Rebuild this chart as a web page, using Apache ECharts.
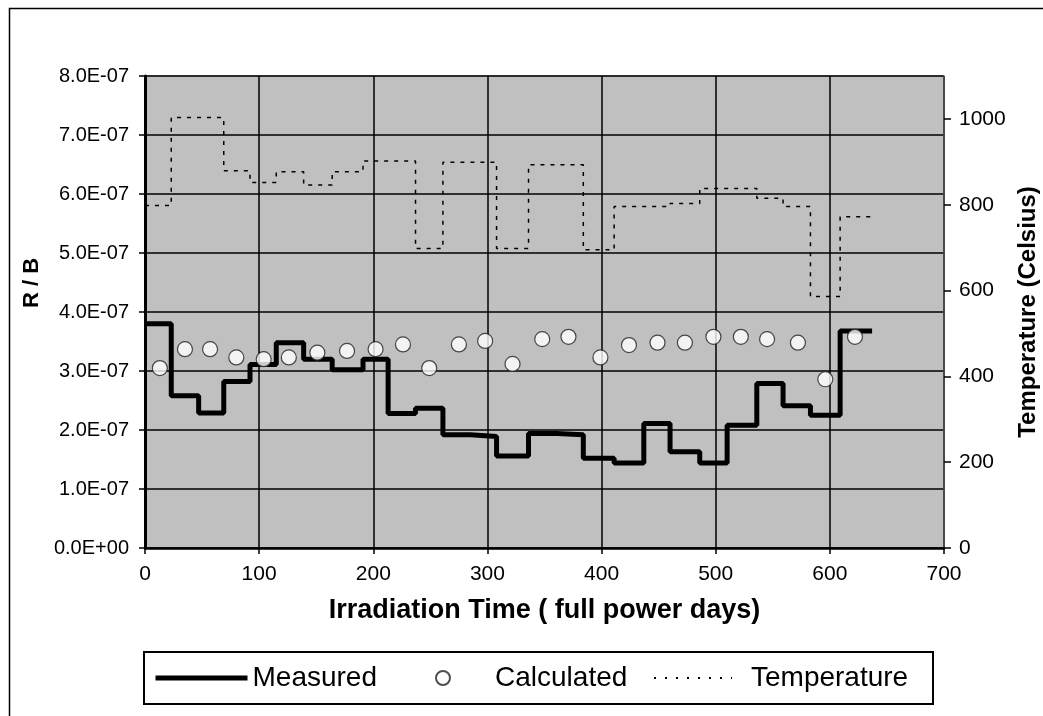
<!DOCTYPE html>
<html>
<head>
<meta charset="utf-8">
<title>R / B vs irradiation time</title>
<script src="https://cdn.jsdelivr.net/npm/echarts@6/dist/echarts.min.js"></script>
<style>
  html, body { margin: 0; padding: 0; background: #fff; }
  #chart { width: 1043px; height: 716px; }
</style>
</head>
<body>
<div id="chart"></div>
<script>
  // step boundaries (full power days), shared by measured and temperature
  let stepDays = [0, 23, 47, 69, 92, 115, 139, 164, 191, 213, 237, 261, 285, 308, 336, 361, 384, 411, 437, 460, 486, 510, 536, 559, 583, 609, 637]
  let measuredRB = [3.80e-7, 2.58e-7, 2.29e-7, 2.82e-7, 3.11e-7, 3.48e-7, 3.20e-7, 3.02e-7, 3.20e-7, 2.28e-7, 2.37e-7, 1.92e-7, 1.89e-7,
    1.56e-7, 1.94e-7, 1.92e-7, 1.52e-7, 1.44e-7, 2.11e-7, 1.63e-7, 1.44e-7, 2.08e-7, 2.79e-7, 2.41e-7, 2.25e-7, 3.68e-7]
  let temperatureC = [798, 1003, 1003, 879, 852, 877, 846, 877, 902, 902, 698, 899, 899,
    698, 893, 893, 695, 796, 796, 803, 838, 838, 815, 796, 586, 772]
  let calcDays = [13, 35, 57, 80, 104, 126, 151, 177, 202, 226, 249, 275, 298, 322, 348, 371, 399, 424, 449, 473, 498, 522, 545, 572, 596, 622]
  let calcRB = [3.05e-7, 3.37e-7, 3.37e-7, 3.23e-7, 3.20e-7, 3.23e-7, 3.31e-7, 3.34e-7, 3.37e-7, 3.45e-7, 3.05e-7, 3.45e-7, 3.51e-7,
    3.12e-7, 3.54e-7, 3.58e-7, 3.23e-7, 3.44e-7, 3.48e-7, 3.48e-7, 3.58e-7, 3.58e-7, 3.54e-7, 3.48e-7, 2.86e-7, 3.58e-7]
  let tempTicks = [0, 200, 400, 600, 800, 1000]

  const FONT = "'Liberation Sans', Arial, sans-serif"
  const legendText = { fontSize: 28, fontFamily: FONT, color: '#000' }

  function stepData(values) {
    let out = []
    for (let i = 0; i < values.length; i++) {
      out.push([stepDays[i], values[i]])
    }
    out.push([stepDays[values.length], values[values.length - 1]])
    return out
  }

  function sciLabel(v) {
    let parts = Number(v).toExponential(1).split('e')
    let exp = parseInt(parts[1], 10)
    let sign = exp < 0 ? '-' : '+'
    let abs = Math.abs(exp)
    return parts[0] + 'E' + sign + (abs < 10 ? '0' + abs : '' + abs)
  }

  let chart = echarts.init(document.getElementById('chart'))
  chart.setOption({
    backgroundColor: '#fff',
    textStyle: { fontFamily: FONT, color: '#000' },
    animation: false,
    graphic: [
      {
        type: 'rect',
        shape: { x: 9.5, y: 8.5, width: 1100, height: 800 },
        style: { fill: 'none', stroke: '#000', lineWidth: 1.5 },
        silent: true
      },
      {
        type: 'rect',
        shape: { x: 144, y: 652, width: 789, height: 52 },
        style: { fill: 'none', stroke: '#000', lineWidth: 2 },
        silent: true
      }
    ],
    grid: {
      left: 145,
      right: 99,
      top: 76,
      bottom: 168,
      outerBoundsMode: 'none',
      show: true,
      backgroundColor: '#c0c0c0',
      borderColor: '#808080',
      borderWidth: 1
    },
    legend: [
      {
        left: 153,
        top: 664,
        padding: 0,
        itemWidth: 92,
        itemHeight: 10,
        textStyle: legendText,
        lineStyle: { width: 5 },
        data: [{ name: 'Measured', itemStyle: { opacity: 0 } }]
      },
      {
        left: 435,
        top: 664,
        padding: 0,
        itemWidth: 14,
        itemHeight: 14,
        textStyle: Object.assign({ padding: [0, 0, 0, 40] }, legendText),
        data: [{ name: 'Calculated', icon: 'circle' }]
      },
      {
        left: 653,
        top: 664,
        padding: 0,
        itemWidth: 78,
        itemHeight: 10,
        textStyle: Object.assign({ padding: [0, 0, 0, 14] }, legendText),
        lineStyle: { width: 2, type: [2, 9] },
        data: [{ name: 'Temperature', itemStyle: { opacity: 0 } }]
      }
    ],
    xAxis: {
      type: 'value',
      min: 0,
      max: 700,
      interval: 100,
      name: 'Irradiation Time ( full power days)',
      nameLocation: 'middle',
      nameGap: 49,
      nameTextStyle: { fontSize: 27, fontWeight: 'bold', fontFamily: FONT, color: '#000' },
      axisLine: { show: true, onZero: false, lineStyle: { color: '#000', width: 2.5 } },
      axisTick: { show: true, length: 6, lineStyle: { color: '#000', width: 1.5 } },
      axisLabel: { fontSize: 21, color: '#000', margin: 16 },
      splitLine: { show: true, lineStyle: { color: '#000', width: 1.5 } }
    },
    yAxis: [
      {
        type: 'value',
        min: 0,
        max: 8e-7,
        interval: 1e-7,
        name: 'R / B',
        nameLocation: 'middle',
        nameRotate: 90,
        nameGap: 98,
        nameTextStyle: { fontSize: 22, fontWeight: 'bold', fontFamily: FONT, color: '#000', padding: [0, 0, 0, 58] },
        axisLine: { show: true, onZero: false, lineStyle: { color: '#000', width: 3 } },
        axisTick: { show: true, length: 6, lineStyle: { color: '#000', width: 1.5 } },
        axisLabel: { fontSize: 20, color: '#000', margin: 16, formatter: sciLabel },
        splitLine: { show: true, lineStyle: { color: '#000', width: 1.5 } }
      },
      {
        type: 'value',
        position: 'right',
        min: 0,
        max: 1100,
        name: 'Temperature (Celsius)',
        nameLocation: 'middle',
        nameRotate: 90,
        nameGap: 66,
        nameTextStyle: { fontSize: 24, fontWeight: 'bold', fontFamily: FONT, color: '#000' },
        axisLine: { show: true, onZero: false, lineStyle: { color: '#555', width: 1.5 } },
        axisTick: { show: true, length: 7, customValues: tempTicks, lineStyle: { color: '#000', width: 1.5 } },
        axisLabel: { fontSize: 21, color: '#000', margin: 15, customValues: tempTicks, formatter: v => String(v) },
        splitLine: { show: false }
      }
    ],
    series: [
      {
        name: 'Measured',
        type: 'line',
        step: 'end',
        yAxisIndex: 0,
        symbol: 'none',
        z: 3,
        itemStyle: { color: '#000' },
        lineStyle: { color: '#000', width: 5 },
        data: stepData(measuredRB)
      },
      {
        name: 'Calculated',
        type: 'scatter',
        yAxisIndex: 0,
        symbol: 'circle',
        symbolSize: 15,
        z: 4,
        itemStyle: { color: '#fff', borderColor: '#222', borderWidth: 1.2 },
        data: calcDays.map((d, i) => [d, calcRB[i]])
      },
      {
        name: 'Temperature',
        type: 'line',
        step: 'end',
        yAxisIndex: 1,
        symbol: 'none',
        z: 2,
        itemStyle: { color: '#000' },
        lineStyle: { color: '#000', width: 1.5, type: [4, 6] },
        data: stepData(temperatureC)
      }
    ]
  })
</script>
</body>
</html>
